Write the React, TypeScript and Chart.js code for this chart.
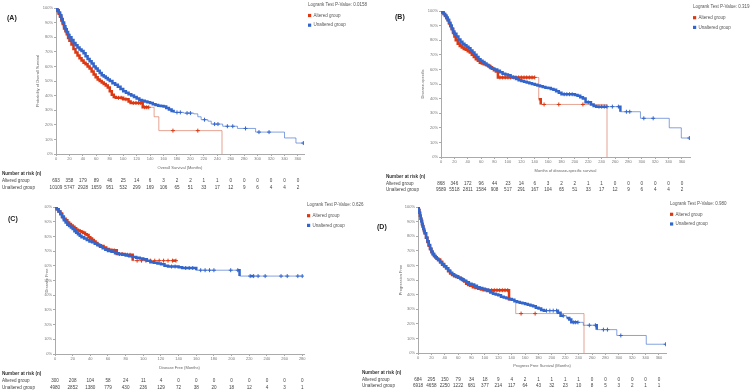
import React, { useEffect, useRef } from 'react';
import { Chart, registerables } from 'chart.js';

Chart.register(...registerables);

type Pt = [number, number];

// ---------- tick labels ----------
const MONTH_TICKS_360 = [0, 20, 40, 60, 80, 100, 120, 140, 160, 180, 200, 220, 240, 260, 280, 300, 320, 340, 360];
const MONTH_TICKS_280 = [0, 20, 40, 60, 80, 100, 120, 140, 160, 180, 200, 220, 240, 260, 280];
const PERCENT_TICKS = [0, 10, 20, 30, 40, 50, 60, 70, 80, 90, 100];

// ---------- (A) Overall survival ----------
const A_ALTERED: Pt[] = [
  [0, 100], [2, 98], [4, 96], [6, 94], [8, 91.5], [10, 89], [12, 86], [14, 84], [16, 82], [18, 79.5], [20, 77.5],
  [23, 75], [26, 72], [29, 69.5], [32, 67.5], [35, 65.5], [38, 64], [41, 62.5], [44, 61.5], [47, 60], [50, 58.5],
  [53, 56.5], [56, 54.5], [59, 52.5], [62, 51], [65, 50], [68, 49], [71, 48], [74, 47], [77, 45.5], [80, 43],
  [83, 40.5], [86, 39], [89, 38.5], [93, 38.5], [97, 38.5], [100, 37.5], [104, 37.5], [108, 36], [111, 35],
  [115, 35], [119, 35], [123, 35], [126, 35], [129, 32], [132, 32], [135, 32], [138, 32], [146, 25.5], [153, 16],
  [174, 16], [211, 16], [247, 0],
];
const A_UNALTERED: Pt[] = [
  [0, 100], [2, 98.5], [4, 97], [6, 95], [8, 92.5], [10, 90], [12, 87.5], [14, 85.5], [16, 83.5], [18, 81.5],
  [20, 80], [23, 78], [26, 76], [29, 74.5], [32, 73], [35, 71.5], [38, 70.5], [41, 69], [44, 67], [47, 65],
  [50, 63.5], [53, 62], [56, 60], [59, 58.5], [62, 57], [65, 55.5], [68, 54], [71, 53], [74, 52], [77, 51],
  [80, 50], [84, 48.5], [88, 47.5], [92, 46], [96, 44.5], [100, 43], [104, 42], [108, 41], [112, 40], [116, 39],
  [120, 38], [124, 37], [128, 36.5], [132, 36], [136, 35.5], [140, 35], [144, 34], [148, 33.5], [152, 33],
  [156, 32.8], [160, 32.5], [164, 31.5], [168, 30.5], [172, 29.5], [175, 28.5], [180, 28.5], [185, 28.5],
  [190, 28], [195, 28], [200, 28], [205, 27.5], [211, 25.5], [216, 23.5], [221, 23.5], [226, 22.5], [231, 20.5],
  [236, 20.5], [241, 20.5], [248, 19], [255, 19], [263, 19], [270, 17.5], [282, 17.5], [297, 15], [302, 15],
  [317, 15], [340, 11], [357, 7.5], [368, 7.5],
];
const A_RISK_ALTERED = [693, 358, 179, 89, 46, 25, 14, 6, 3, 2, 2, 1, 1, 0, 0, 0, 0, 0, 0];
const A_RISK_UNALTERED = [10109, 5747, 2928, 1659, 951, 532, 299, 169, 106, 65, 51, 33, 17, 12, 9, 6, 4, 4, 2];
const A_PVALUE = '0.0158';

// ---------- (B) Disease-specific survival ----------
const B_ALTERED: Pt[] = [
  [0, 100], [2, 99], [4, 98], [6, 96.5], [8, 95], [10, 93.5], [12, 91.5], [14, 89.5], [16, 87.5], [18, 85],
  [20, 82.5], [22, 80], [25, 77.5], [28, 76], [31, 75], [34, 74], [37, 73.5], [40, 72.5], [43, 71.5], [46, 70],
  [49, 68.5], [52, 67], [55, 66], [58, 64.5], [61, 64], [64, 63.5], [67, 63], [70, 62.5], [73, 61.5], [76, 60.5],
  [79, 59.5], [82, 58.5], [85, 54.5], [88, 54.5], [92, 54.5], [96, 54.5], [100, 54.5], [104, 54.5], [108, 54.5],
  [112, 54.5], [116, 54.5], [120, 54.5], [124, 54.5], [128, 54.5], [132, 54.5], [136, 54.5], [140, 54.5],
  [146, 39.5], [149, 36], [154, 36], [176, 36], [212, 36], [248, 0],
];
const B_UNALTERED: Pt[] = [
  [0, 100], [2, 99], [4, 98], [6, 97], [8, 95.5], [10, 94], [12, 92], [14, 90], [16, 88], [18, 86], [20, 84.5],
  [23, 82.5], [26, 80.5], [29, 79], [32, 77.5], [35, 76.5], [38, 75.5], [41, 74.5], [44, 73], [47, 71.5], [50, 70],
  [53, 68.5], [56, 67], [59, 66], [62, 65], [65, 64], [68, 63], [71, 62], [74, 61], [77, 60.5], [80, 60], [84, 59],
  [88, 58], [92, 57], [96, 56.5], [100, 56], [104, 55], [108, 54.5], [112, 53.5], [116, 52.5], [120, 52],
  [124, 51.5], [128, 51], [132, 50.5], [136, 50], [140, 49.5], [144, 49], [148, 48.5], [152, 48], [156, 47.5],
  [160, 47.2], [164, 46.5], [168, 46], [172, 45], [176, 44], [180, 43], [184, 43], [188, 43], [192, 43], [196, 43],
  [200, 42.5], [204, 42], [208, 41], [212, 40], [216, 37.5], [220, 37.5], [224, 36], [228, 35], [232, 34.5],
  [236, 34.5], [240, 34.5], [244, 34.5], [248, 34.5], [256, 34.5], [265, 34.5], [268, 31], [277, 31], [282, 31],
  [298, 26.5], [303, 26.5], [317, 26.5], [341, 20], [359, 13], [371, 13],
];
const B_RISK_ALTERED = [868, 346, 172, 96, 44, 23, 14, 6, 3, 2, 2, 1, 1, 0, 0, 0, 0, 0, 0];
const B_RISK_UNALTERED = [9589, 5518, 2811, 1584, 908, 517, 291, 167, 104, 65, 51, 33, 17, 12, 9, 6, 4, 4, 2];
const B_PVALUE = '0.319';

// ---------- (C) Disease free ----------
const C_ALTERED: Pt[] = [
  [0, 100], [2, 98.5], [4, 97], [6, 95.5], [8, 93.5], [10, 92], [12, 91], [14, 89.5], [16, 88.5], [18, 87.5],
  [20, 86.5], [22, 85.5], [24, 84.5], [26, 84], [28, 83.5], [30, 83], [32, 82.5], [34, 81.5], [36, 81], [38, 79.5],
  [40, 78.5], [42, 77.5], [44, 76.5], [46, 75.5], [48, 74.5], [50, 74], [52, 73.5], [55, 72.5], [58, 71.5],
  [61, 71], [64, 70.5], [67, 70.5], [70, 68], [73, 68], [76, 68], [79, 67.5], [82, 67.5], [85, 67.5], [88, 63.5],
  [93, 63.5], [98, 63.5], [103, 63.5], [108, 63.5], [113, 63.5], [118, 63.5], [123, 63.5], [128, 63.5],
  [133, 63.5], [137, 63.5],
];
const C_UNALTERED: Pt[] = [
  [0, 100], [2, 98.5], [4, 97], [6, 95], [8, 93], [10, 91], [12, 89.5], [14, 88], [16, 87], [18, 86], [20, 85],
  [22, 83.5], [24, 82.5], [26, 81.5], [28, 80.5], [30, 79.5], [33, 78.5], [36, 77.5], [39, 76.5], [42, 76],
  [45, 75], [48, 74], [51, 73], [54, 72], [57, 71], [60, 70], [64, 69.5], [68, 68.5], [72, 68], [76, 67.5],
  [80, 67], [84, 66.5], [88, 66], [92, 65.5], [96, 65], [100, 64.5], [104, 63.5], [108, 62.5], [112, 62],
  [116, 61.5], [120, 61], [124, 60], [128, 59.5], [132, 59.5], [136, 59.5], [140, 59], [144, 58.5], [148, 58.5],
  [152, 58.5], [156, 58.5], [160, 57], [165, 57], [170, 57], [175, 57], [180, 57], [199, 57], [207, 57],
  [209, 53], [221, 53], [225, 53], [230, 53], [238, 53], [256, 53], [263, 53], [275, 53], [280, 53],
];
const C_RISK_ALTERED = [300, 208, 104, 58, 24, 11, 4, 0, 0, 0, 0, 0, 0, 0, 0];
const C_RISK_UNALTERED = [4980, 2852, 1380, 779, 430, 236, 129, 72, 38, 20, 18, 12, 4, 3, 1];
const C_PVALUE = '0.626';

// ---------- (D) Progression free ----------
const D_ALTERED: Pt[] = [
  [0, 100], [1, 98], [2, 96], [3, 94], [4, 92], [5, 90.5], [6, 88.5], [7, 87], [8, 85], [9, 83.5], [10, 82],
  [12, 79], [14, 76], [16, 73.5], [18, 71], [20, 69], [22, 67.5], [24, 66.5], [26, 65.5], [28, 64.5], [30, 64],
  [33, 62.5], [36, 61], [39, 59.5], [42, 58], [45, 56], [48, 54.5], [51, 53.5], [54, 52.5], [57, 52], [60, 51.5],
  [63, 51], [66, 50], [69, 49], [72, 47.5], [75, 46.5], [78, 46], [82, 45], [86, 44.5], [90, 44], [94, 43.5],
  [98, 43], [102, 43], [106, 43], [110, 43], [114, 43], [118, 43], [122, 43], [126, 43], [130, 43], [134, 43],
  [136, 36], [146, 27], [154, 27], [175, 27], [248, 0],
];
const D_UNALTERED: Pt[] = [
  [0, 100], [1, 98], [2, 96], [3, 94], [4, 92], [5, 90], [6, 88], [7, 86.5], [8, 85], [9, 83.5], [10, 82],
  [12, 79], [14, 76.5], [16, 74], [18, 71.5], [20, 69.5], [22, 68], [24, 66.5], [26, 65.5], [28, 64.5], [30, 63.5],
  [33, 62], [36, 60.5], [39, 59.5], [42, 58], [45, 56.5], [48, 55], [51, 54], [54, 53], [57, 52.5], [60, 51.5],
  [64, 50.5], [68, 49.5], [72, 48.5], [76, 47.5], [80, 47], [84, 46], [88, 45], [92, 44.5], [96, 44], [100, 43.5],
  [104, 42.5], [108, 41.5], [112, 40.5], [116, 40], [120, 39.5], [124, 38.5], [128, 38], [132, 37.5], [136, 37],
  [140, 36.5], [144, 35.5], [148, 35], [152, 34.5], [156, 34], [160, 33.5], [164, 33], [168, 32.5], [172, 32],
  [176, 31], [180, 30.5], [184, 29.5], [188, 29], [192, 29], [197, 29], [202, 29], [207, 29], [209, 27.5],
  [213, 25.5], [217, 25.5], [222, 24], [226, 23], [229, 21], [232, 21], [235, 21], [239, 21], [247, 19],
  [256, 19], [265, 19], [267, 16], [277, 16], [283, 16], [297, 12], [303, 12], [341, 6], [370, 6],
];
const D_RISK_ALTERED = [684, 295, 150, 79, 34, 18, 9, 4, 2, 1, 1, 1, 1, 0, 0, 0, 0, 0, 0];
const D_RISK_UNALTERED = [6918, 4658, 2250, 1222, 681, 377, 214, 117, 64, 43, 32, 23, 10, 8, 5, 3, 2, 1, 1];
const D_PVALUE = '0.980';

// ---------- styles ----------
const W = 750;
const H = 392;
const FONT = '"Liberation Sans", Arial, Helvetica, sans-serif';
const RED = '#dc3912';
const BLUE = '#3366cc';
const RED_THIN = 'rgba(210,90,60,0.55)';
const BLUE_THIN = 'rgba(51,102,204,0.6)';
const DENSE_GAP = 4;

interface Panel {
  label: string;
  labelPos: [number, number];
  area: { left: number; top: number; right: number; bottom: number };
  xMax: number;
  xTicks: number[];
  yTitle: string;
  yTitleX: number;
  xTitle: string;
  xTitleY: number;
  legendPos: [number, number];
  pValue: string;
  altered: Pt[];
  unaltered: Pt[];
  riskAltered: number[];
  riskUnaltered: number[];
  riskPos: { x: number; y: [number, number, number] };
}

const PANELS: Panel[] = [
  {
    label: '(A)', labelPos: [7, 18], area: { left: 56, top: 8, right: 304, bottom: 154 }, xMax: 369,
    xTicks: MONTH_TICKS_360, yTitle: 'Probability of Overall Survival', yTitleX: 38,
    xTitle: 'Overall Survival (Months)', xTitleY: 168.3, legendPos: [308, 4.5], pValue: A_PVALUE,
    altered: A_ALTERED, unaltered: A_UNALTERED, riskAltered: A_RISK_ALTERED, riskUnaltered: A_RISK_UNALTERED,
    riskPos: { x: 2, y: [174, 181, 188] },
  },
  {
    label: '(B)', labelPos: [395, 17], area: { left: 441, top: 11, right: 690, bottom: 157 }, xMax: 372,
    xTicks: MONTH_TICKS_360, yTitle: 'Disease-specific', yTitleX: 423,
    xTitle: 'Months of disease-specific survival', xTitleY: 170.7, legendPos: [693, 6.7], pValue: B_PVALUE,
    altered: B_ALTERED, unaltered: B_UNALTERED, riskAltered: B_RISK_ALTERED, riskUnaltered: B_RISK_UNALTERED,
    riskPos: { x: 386, y: [177, 183.5, 190] },
  },
  {
    label: '(C)', labelPos: [8, 219], area: { left: 55, top: 207, right: 304, bottom: 354 }, xMax: 282,
    xTicks: MONTH_TICKS_280, yTitle: 'Disease Free', yTitleX: 47,
    xTitle: 'Disease Free (Months)', xTitleY: 368.3, legendPos: [307, 204.7], pValue: C_PVALUE,
    altered: C_ALTERED, unaltered: C_UNALTERED, riskAltered: C_RISK_ALTERED, riskUnaltered: C_RISK_UNALTERED,
    riskPos: { x: 2, y: [374, 381, 387.7] },
  },
  {
    label: '(D)', labelPos: [377, 227], area: { left: 418, top: 207, right: 666, bottom: 353 }, xMax: 370.5,
    xTicks: MONTH_TICKS_360, yTitle: 'Progression Free', yTitleX: 401,
    xTitle: 'Progress Free Survival (Months)', xTitleY: 366, legendPos: [670, 203.3], pValue: D_PVALUE,
    altered: D_ALTERED, unaltered: D_UNALTERED, riskAltered: D_RISK_ALTERED, riskUnaltered: D_RISK_UNALTERED,
    riskPos: { x: 362, y: [372.7, 379.3, 386] },
  },
];

function curveDataset(label: string, pts: Pt[], color: string, thin: string) {
  return {
    label,
    data: pts.map(([x, y]) => ({ x, y })),
    borderColor: color,
    backgroundColor: color,
    stepped: true,
    borderWidth: 1,
    fill: false,
    pointStyle: 'cross',
    pointRadius: (ctx: any) => {
      const i = ctx.dataIndex;
      const d = ctx.dataset.data;
      return i > 0 && d[i].y === d[i - 1].y ? 2 : 0;
    },
    pointHoverRadius: 0,
    pointBorderWidth: 1,
    pointBorderColor: color,
    segment: {
      borderWidth: (ctx: any) => (ctx.p1.parsed.x - ctx.p0.parsed.x <= DENSE_GAP ? 2.5 : 1),
      borderColor: (ctx: any) => (ctx.p1.parsed.x - ctx.p0.parsed.x <= DENSE_GAP ? color : thin),
    },
  };
}

function buildConfig(p: Panel): any {
  const yW = p.area.left - (p.yTitleX - 2.4);
  const xH = p.xTitleY + 2.4 - p.area.bottom;
  const tickFont = { family: FONT, size: 4 };
  const titleFont = { family: FONT, size: 4 };

  const overlay = {
    id: 'overlay' + p.label,
    afterDraw(chart: any) {
      const ctx = chart.ctx as CanvasRenderingContext2D;
      const xs = chart.scales.x;
      ctx.save();
      ctx.textBaseline = 'middle';
      // panel label
      ctx.fillStyle = '#222';
      ctx.font = `bold 7px ${FONT}`;
      ctx.textAlign = 'left';
      ctx.fillText(p.label, p.labelPos[0], p.labelPos[1]);
      // legend
      const [lx, ly] = p.legendPos;
      ctx.font = `4.5px ${FONT}`;
      ctx.fillStyle = '#555';
      ctx.fillText('Logrank Test P-Value: ' + p.pValue, lx, ly);
      ctx.fillStyle = RED;
      ctx.fillRect(lx, ly + 11 - 1.6, 3.2, 3.2);
      ctx.fillStyle = BLUE;
      ctx.fillRect(lx, ly + 20.7 - 1.6, 3.2, 3.2);
      ctx.fillStyle = '#555';
      ctx.fillText('Altered group', lx + 5.5, ly + 11);
      ctx.fillText('Unaltered group', lx + 5.5, ly + 20.7);
      // number at risk
      const r = p.riskPos;
      ctx.fillStyle = '#333';
      ctx.font = `bold 4.6px ${FONT}`;
      ctx.fillText('Number at risk (n)', r.x, r.y[0]);
      ctx.font = `4.6px ${FONT}`;
      ctx.fillStyle = '#444';
      ctx.fillText('Altered group', r.x, r.y[1]);
      ctx.fillText('Unaltered group', r.x, r.y[2]);
      ctx.textAlign = 'center';
      p.xTicks.forEach((t, i) => {
        const px = xs.getPixelForValue(t);
        ctx.fillText(String(p.riskAltered[i]), px, r.y[1]);
        ctx.fillText(String(p.riskUnaltered[i]), px, r.y[2]);
      });
      ctx.restore();
    },
  };

  return {
    type: 'line',
    data: {
      datasets: [
        curveDataset('Unaltered group', p.unaltered, BLUE, BLUE_THIN),
        curveDataset('Altered group', p.altered, RED, RED_THIN),
      ],
    },
    options: {
      responsive: false,
      animation: false,
      events: [],
      layout: {
        padding: {
          left: p.area.left - yW,
          top: p.area.top,
          right: W - p.area.right,
          bottom: H - p.area.bottom - xH,
        },
      },
      plugins: { legend: { display: false }, tooltip: { enabled: false }, title: { display: false } },
      scales: {
        x: {
          type: 'linear',
          min: 0,
          max: p.xMax,
          afterBuildTicks: (s: any) => {
            s.ticks = p.xTicks.map((v) => ({ value: v }));
          },
          afterFit: (s: any) => {
            s.height = xH;
          },
          ticks: { font: tickFont, color: '#777', padding: 0, maxRotation: 0, autoSkip: false },
          grid: { display: true, drawOnChartArea: false, drawTicks: true, tickLength: 2, tickColor: '#aaa' },
          border: { display: true, color: '#aaa', width: 1 },
          title: { display: true, text: p.xTitle, font: titleFont, color: '#666', padding: 0 },
        },
        y: {
          type: 'linear',
          min: 0,
          max: 100,
          afterBuildTicks: (s: any) => {
            s.ticks = PERCENT_TICKS.map((v) => ({ value: v }));
          },
          afterFit: (s: any) => {
            s.width = yW;
          },
          ticks: { font: tickFont, color: '#777', padding: 1, callback: (v: any) => v + '%' },
          grid: { display: true, drawOnChartArea: false, drawTicks: true, tickLength: 2, tickColor: '#aaa' },
          border: { display: true, color: '#aaa', width: 1 },
          title: { display: true, text: p.yTitle, font: titleFont, color: '#666', padding: 0 },
        },
      },
    },
    plugins: [overlay],
  };
}

function PanelCanvas({ panel }: { panel: Panel }) {
  const ref = useRef<HTMLCanvasElement | null>(null);
  useEffect(() => {
    if (!ref.current) return;
    const chart = new Chart(ref.current, buildConfig(panel));
    return () => chart.destroy();
  }, [panel]);
  return (
    <canvas
      ref={ref}
      width={W}
      height={H}
      style={{ position: 'absolute', left: 0, top: 0, width: W, height: H }}
    />
  );
}

export default function App() {
  return (
    <div style={{ position: 'fixed', left: 0, top: 0, width: W, height: H, background: '#fff' }}>
      {PANELS.map((p) => (
        <PanelCanvas key={p.label} panel={p} />
      ))}
    </div>
  );
}
